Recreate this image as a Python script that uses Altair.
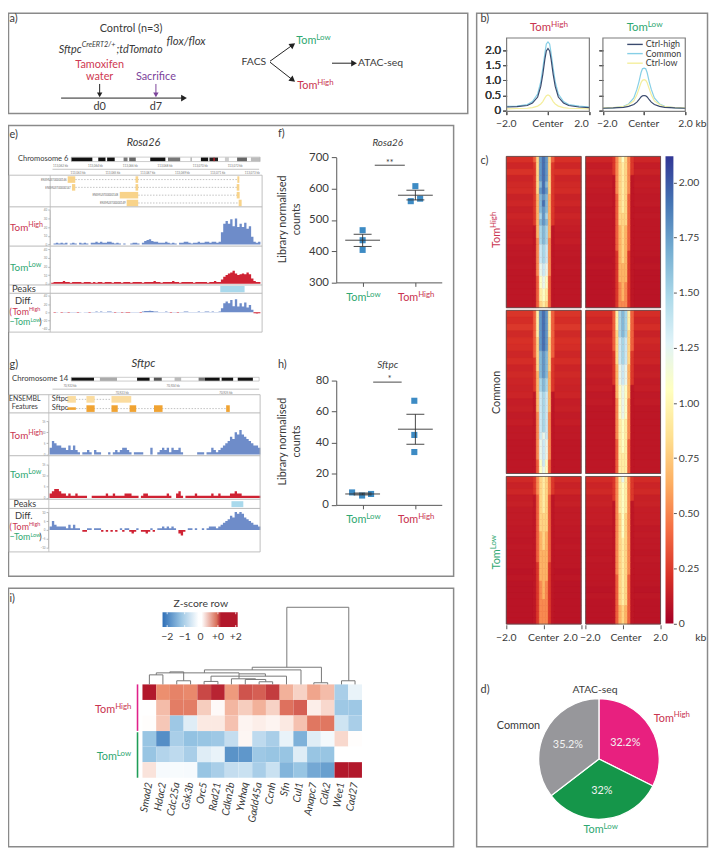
import altair as alt
import pandas as pd
import math
from collections import defaultdict

alt.data_transformers.disable_max_rows()
W, H, OX, OY = 709, 845, 8, 8
FONT = "Lato"
INK = "#3a3a3a"
RED = "#c9344f"
GREEN = "#2fa872"
FRAME = "#8a8a8a"
BLUE_TRACK = "#6e8cc9"
RED_TRACK = "#cf2233"

# ---- data ---------------------------------------------------------------
prof_x = [-2, -1.5, -1, -.75, -.5, -.35, -.25, -.15, -.08, 0, .08, .15, .25, .35, .5, .75, 1, 1.5, 2]
b_left = {
    "Common": [.14, .15, .2, .3, .55, .95, 1.4, 1.9, 2.2, 2.27, 2.2, 1.9, 1.4, .95, .55, .3, .2, .15, .12],
    "Ctrl-low": [.06, .07, .08, .1, .15, .22, .3, .42, .49, .52, .49, .42, .3, .22, .15, .1, .08, .07, .06],
    "Ctrl-high": [.12, .13, .17, .25, .45, .8, 1.2, 1.7, 1.97, 2.05, 1.97, 1.7, 1.2, .8, .45, .25, .17, .12, .1],
}
b_right = {
    "Common": [.08, .09, .14, .22, .42, .7, .95, 1.25, 1.38, 1.4, 1.38, 1.25, .95, .7, .42, .22, .14, .09, .08],
    "Ctrl-low": [.09, .1, .13, .2, .32, .52, .72, .92, 1.0, 1.02, 1.0, .92, .72, .52, .32, .2, .13, .1, .09],
    "Ctrl-high": [.08, .09, .11, .14, .2, .28, .36, .45, .49, .5, .49, .45, .36, .28, .2, .14, .11, .09, .08],
}
b_colors = {"Ctrl-high": "#3a4a6e", "Common": "#86cfe6", "Ctrl-low": "#f4ee9c"}

# Central seven columns of each heatmap row (hex levels) and the flank level of that row
heat_hh = ["36ded63", "26ded62", "26ded62", "26ded62", "26cec62", "26ded62", "25cdc52", "25cec52", "25cdc52", "25bdb52",
           "25cdc52", "15bcb51", "15bcb51", "14bcb41", "14aba41", "14aba41", "14aba41", "149a941", "149a941", "1389831",
           "1389831", "1378731", "1378731", "1367631"]
heat_hl = ["2468642", "2467642", "2467642", "1467641", "1467641", "1467641", "1367631", "1367631", "1367631", "1366631",
           "1366631", "1356531", "1356531", "1356531", "1356531", "1256521", "1256521", "1255521", "1255521", "1255521",
           "1245421", "1245421", "1245421", "1244421"]
heat_ch = ["37ded73", "37ded73", "37ded73", "37ded73", "36ded63", "36ded63", "36cdc63", "26cdc62", "26cdc62", "25cdc52",
           "25bcb52", "25bcb52", "15aba51", "15aba51", "15aba51", "14aba41", "14aba41", "14aba41", "14a9a41", "149a941",
           "149a941", "149a941", "138a831", "1389831"]
heat_cl = ["37bcb73", "37bcb73", "37bcb73", "36bcb63", "36aba63", "36aba63", "26aba62", "26aba62", "259a952", "259a952",
           "259a952", "1589851", "1589851", "1489841", "1489841", "1489841", "1478741", "1478741", "1478741", "1378731",
           "1378731", "1377731", "1377731", "1377731"]
heat_lh = ["2467642", "2467642", "2467642", "1367631", "1367631", "1367631", "1366631", "1366631", "1366631", "1356531",
           "1356531", "1356531", "1355531", "1355531", "1255521", "1255521", "1255521", "1245421", "1245421", "1245421",
           "1244421", "1244421", "1244421", "1244421"]
heat_ll = ["2479742", "2478742", "2478742", "2478742", "1478741", "1478741", "1468641", "1468641", "1468641", "1468641",
           "1467641", "1467641", "1467641", "1467641", "1467641", "1467641", "1367631", "1367631", "1367631", "1367631",
           "1367631", "1356531", "1356531", "1356531"]
flank_h1 = [.21, .17, .22, .16, .18, .19, .15, .17, .14, .16, .14, .13, .12, .13, .11, .11, .1, .11, .1, .1, .1, .1, .1, .1]
flank_h2 = [.17, .13, .15, .12, .13, .12, .11, .12, .1, .11, .1, .1, .1, .1, .1, .1, .09, .1, .09, .09, .09, .09, .09, .09]
flank_c1 = [.23, .2, .24, .18, .21, .2, .17, .2, .16, .18, .16, .15, .16, .13, .14, .12, .13, .11, .11, .1, .1, .1, .1, .1]
flank_c2 = [.2, .17, .2, .15, .18, .16, .15, .16, .13, .14, .12, .13, .11, .12, .1, .1, .1, .1, .1, .1, .1, .1, .1, .1]
flank_l1 = [.18, .15, .17, .13, .14, .12, .12, .12, .11, .11, .1, .11, .1, .1, .1, .09, .1, .09, .09, .09, .09, .09, .09, .09]
flank_l2 = [.19, .16, .18, .14, .15, .13, .13, .13, .11, .12, .11, .11, .1, .11, .1, .1, .1, .1, .09, .1, .09, .09, .09, .09]
rdylbu = ["#a50026", "#d73027", "#f46d43", "#fdae61", "#fee090", "#ffffbf", "#e0f3f8", "#abd9e9", "#74add1", "#4575b4", "#313695"]

pie_names = ["TomHigh", "TomLow", "Common"]
pie_vals = [32.2, 32, 35.2]
pie_cols = ["#e8207f", "#15964a", "#97979b"]

e_high = [0, 1, 2, 1, 2, 1, 2, 0, 1, 2, 1, 0, 2, 1, 2, 1, 0, 2, 2, 3, 2, 3, 2, 2, 3, 3, 2, 1, 2, 1,
          0, 1, 0, 0, 1, 2, 2, 1, 0, 2, 4, 5, 6, 4, 3, 3, 2, 2, 2, 3, 2, 1, 2, 1, 0, 2, 2, 3, 3, 2,
          1, 2, 2, 3, 2, 2, 3, 3, 2, 3, 3, 2, 3, 14, 24, 27, 24, 29, 21, 30, 20, 24, 20, 25, 18, 21, 9, 3, 2, 3]
e_low = [1, 2, 2, 2, 2, 3, 2, 2, 1, 2, 2, 2, 2, 1, 2, 2, 2, 1, 2, 1, 2, 2, 1, 2, 2, 2, 1, 2, 2, 2,
         1, 2, 2, 2, 1, 2, 2, 2, 2, 1, 2, 2, 2, 2, 3, 2, 2, 1, 2, 2, 2, 2, 3, 2, 2, 1, 2, 2, 2, 2,
         2, 1, 2, 2, 2, 2, 2, 1, 2, 2, 3, 2, 2, 5, 8, 10, 12, 13, 15, 12, 10, 11, 12, 11, 13, 11, 6, 3, 2, 2]
e_diff = [0, -1, 1, 0, -1, 1, 1, -1, 1, 1, 1, -1, 1, 0, 1, 1, -1, 1, 1, 2, 1, 2, 1, 1, 2, 2, 1, -1, 1, 1,
          -1, 1, -1, -1, 1, 1, 1, 1, -1, 2, 3, 3, 4, 3, 2, 2, 1, 1, 1, 2, 1, -1, 1, 1, -1, 1, 1, 2, 2, 1,
          1, 1, 1, 2, 1, 1, 2, 2, 1, 2, 1, 1, 2, 10, 22, 26, 22, 30, 15, 32, 14, 22, 14, 24, 12, 18, 6, -2, -3, -2]
g_high = [3, 6, 5, 4, 4, 3, 3, 2, 4, 2, 4, 2, 1, 0, 1, 1, 2, 1, 0, 2, 1, 1, 0, 0, 0, 1, 0, 1, 2, 1,
          2, 3, 3, 2, 1, 0, 1, 1, 1, 1, 0, 0, 0, 3, 0, 0, 1, 2, 3, 2, 3, 1, 3, 2, 2, 3, 1, 0, 0, 0,
          0, 0, 0, 1, 1, 1, 0, 1, 1, 3, 2, 1, 2, 3, 4, 5, 6, 8, 7, 10, 9, 11, 9, 8, 7, 6, 5, 4, 4, 3]
g_low = [2, 3, 4, 4, 3, 2, 2, 1, 2, 1, 1, 2, 1, 1, 1, 1, 0, 0, 1, 1, 1, 1, 1, 1, 2, 1, 1, 2, 1, 1,
         1, 1, 2, 2, 2, 1, 1, 1, 0, 1, 2, 2, 1, 1, 1, 1, 1, 1, 1, 1, 2, 1, 0, 0, 2, 3, 1, 0, 1, 1,
         1, 1, 2, 1, 1, 1, 1, 1, 1, 2, 1, 1, 2, 1, 1, 1, 1, 2, 2, 3, 2, 2, 1, 1, 1, 1, 1, 1, 1, 1]
g_diff = [2, 5, 3, 2, 2, 2, 2, 1, 3, 1, 3, 1, 1, 0, -1, -1, 1, 1, 0, 1, 1, 1, -1, 0, -1, 0, -1, 0, -1, 0,
          1, -1, 1, 1, -1, -2, -1, 1, 0, -1, -1, -2, -1, 1, -1, 0, 1, 1, 2, 1, 2, 1, 2, 1, 0, -2, -3, -1, 0, 1,
          1, 0, 1, 0, 0, 1, 0, 1, 2, 2, 2, 1, 2, 3, 4, 5, 6, 8, 7, 10, 9, 10, 9, 7, 6, 5, 4, 3, 3, 2]

e_band = [(216, 280, "#111111"), (298, 320, "#111111"), (325, 348, "#111111"), (375, 387, "#777777"), (392, 412, "#666666"),
          (456, 502, "#111111"), (510, 547, "#777777"), (578, 583, "#bbbbbb"), (610, 632, "#111111"), (636, 662, "#222222"),
          (648, 652, "#c8202c"), (683, 695, "#cccccc"), (720, 750, "#666666"), (762, 790, "#bbbbbb")]
g_band = [(216, 285, "#111111"), (303, 355, "#aaaaaa"), (416, 454, "#111111"), (467, 491, "#555555"), (530, 550, "#bbbbbb"),
          (603, 622, "#777777"), (622, 667, "#111111"), (673, 708, "#111111"), (722, 768, "#111111")]
e_exons = [(205, 228, 0), (411, 419, 0), (218, 228, 1), (411, 419, 1), (718, 726, 1), (363, 419, 2), (718, 727, 2),
           (384, 419, 3), (724, 733, 3), (720, 726, 0)]
e_introns = [(228, 725, 0), (228, 720, 1), (419, 720, 2), (419, 726, 3)]
g_exons1 = [(204, 230), (262, 287), (338, 398)]
g_exons2 = [(262, 287), (338, 357), (393, 413), (467, 493), (686, 697)]

f_x = [1, 1, 1, 1.9125, 2, 2.09]
f_y = [467, 435, 404, 560, 608, 568]
h_x = [.8, .99, 1.16, 1.98, 1.98, 1.98]
h_y = [8, 6, 7, 67, 45, 34]
f_means = [(1, 435, 415, 454), (2, 579, 564, 595)]
h_means = [(1, 7, 6.4, 7.6), (2, 48.7, 39, 58.3)]

genes = ["Smad2", "Hdac2", "Cdc25a", "Gsk3b", "Orc5", "Rad21", "Cdkn2b", "Ywhaq", "Gadd45a", "Ccnh", "Sfn", "Cul1", "Anapc7", "Cdk2", "Wee1", "Cad27"]
z_rows = [
    [2.0, 1.0, 1.1, 1.05, 1.6, 1.9, .9, 1.5, 1.4, 1.7, .7, .4, .8, .6, -.8, -.2],
    [0, .6, 1.15, 1.15, .45, .05, .65, .45, .7, .4, 1.25, 1.4, .15, .35, -.9, -.9],
    [.02, .5, -.9, -.3, .2, .2, .55, .1, .15, .1, .2, .55, 1.2, 1.2, -.45, -.8],
    [-.95, -1.6, -.8, -1.0, -.95, -.9, -.55, .08, -.6, -.8, -.2, -1.2, -.3, -.1, .35, .02],
    [-.95, -.7, -.6, -.8, -.3, -.2, -1.55, -1.5, -.9, -.95, -.95, -.3, -.95, -.95, 0, 0],
    [.25, -.08, -.07, -.08, -.95, -.8, -.55, -.5, -.8, -.5, -1.15, -.95, -1.3, -1.4, 2, 2],
]
z_domain = [-2, -1, 0, 1, 2]
z_range = ["#2b6cb3", "#93c2e2", "#ffffff", "#ec8f6f", "#b2182b"]
dendro = [(453, 494, 29, 0, 0), (536, 578, 11, 0, 0), (515, 557, 38, 35, 11), (474, 725, 35, 29, 32), (619, 661, 9, 0, 0),
          (786, 827, 8, 0, 0), (744, 806, 15, 0, 8), (702, 775, 17, 0, 15), (640, 869, 25, 9, 0), (725, 805, 32, 17, 25),
          (620, 913, 44, 35, 0), (952, 994, 5, 0, 0), (765, 975, 52, 44, 5), (1036, 1077, 11, 0, 0), (870, 1058, 234, 52, 11)]


# ---- helpers --------------------------------------------------------------
def sx(d, r):
    return alt.Scale(domain=list(d), range=[r[0] - OX, r[1] - OX], nice=False, zero=False)


def sy(d, r):
    return alt.Scale(domain=list(d), range=[r[0] - OY, r[1] - OY], nice=False, zero=False)


def px():
    return sx([8, 717], [8, 717])


def py():
    return sy([8, 853], [8, 853])


def yaxis(xp, orient="left", **kw):
    off = -(xp - OX) if orient == "left" else -(W - (xp - OX))
    base = dict(grid=False, title=None, labelFont=FONT, labelColor=INK, domainColor="#555", tickColor="#555")
    base.update(kw)
    return alt.Axis(orient=orient, offset=off, **base)


def xaxis(yp, **kw):
    base = dict(grid=False, title=None, labelFont=FONT, labelColor=INK, domainColor="#555", tickColor="#555")
    base.update(kw)
    return alt.Axis(orient="bottom", offset=-(H - (yp - OY)), **base)


layers = []
texts = []


def T(x, y, s, size=11, color=INK, align="left", italic=False, angle=0):
    texts.append(dict(x=x, y=y, t=s, size=size, color=color, align=align, italic=italic, angle=angle))


TW = 1.85


def tom(x, y, level, size=11, angle=0, sup=.72):
    color = RED if level == "High" else GREEN
    w = size * TW
    T(x, y, "Tom", size, color, angle=angle)
    if angle == 0:
        T(x + w, y - size * .3, level, size * sup, color)
    else:
        T(x - size * .3, y - w, level, size * sup, color, angle=angle)


rects, frames, rules, heads = [], [], [], []


def R(x0, y0, x1, y1, c):
    rects.append(dict(x=x0, x2=x1, y=y0, y2=y1, c=c))


def F(x0, y0, x1, y1, c=FRAME, w=1.5):
    frames.append(dict(x=x0, x2=x1, y=y0, y2=y1, c=c, w=w))


def L(x0, y0, x1, y1, c="#333", w=1.0):
    rules.append(dict(x=x0, x2=x1, y=y0, y2=y1, c=c, w=w))


def A(x0, y0, x1, y1, c="#222", w=1.0, head=45):
    L(x0, y0, x1, y1, c, w)
    a = math.degrees(math.atan2(x1 - x0, -(y1 - y0)))
    heads.append(dict(x=x1, y=y1, c=c, a=a, s=head))


# ---- panel frames ---------------------------------------------------------
F(8.5, 8.5, 473, 110)
F(482, 8.5, 715.5, 851.5)
F(8.5, 122, 458.7, 578)
F(8.5, 590, 458.7, 851.5)

# ---- panel a --------------------------------------------------------------
T(9.5, 14, "a)", 11)
T(132.5, 24, "Control (n=3)", 11, align="center")
T(59.3, 46, "Sftpc", 11, italic=True)
T(82.5, 40.5, "CreERT2/+", 7.4, italic=True)
T(117.7, 46, ";tdTomato", 11, italic=True)
T(168.3, 38, "flox/flox", 11.5, italic=True)
T(100.7, 61, "Tamoxifen", 11, "#cf3a52", "center")
T(100.7, 73, "water", 11, "#cf3a52", "center")
T(157.6, 73, "Sacrifice", 11, "#7c449b", "center")
A(61.7, 94.3, 186, 94.3)
A(100.7, 80, 100.7, 91, head=30)
A(157.6, 80, 157.6, 91, "#7c449b", head=30)
T(100.7, 103, "d0", 11, align="center")
T(157.6, 103, "d7", 11, align="center")
T(256.7, 58, "FACS", 10.5, align="center")
A(273, 57, 296, 40.5)
A(273, 58, 296, 76)
tom(299.5, 36.5, "Low", 11)
tom(300.5, 82, "High", 11)
A(335.7, 59, 358, 59)
T(362, 59, "ATAC-seq", 10.5)

# ---- panel b --------------------------------------------------------------
T(486, 14, "b)", 11)
tom(536, 23.5, "High", 11.5)
tom(633.7, 23.5, "Low", 11.5)
yb = sy([0, 2], [107, 45.7])
for xr, series, labeled in [((512.3, 596), b_left, True), ((609.7, 693), b_right, False)]:
    xs = sx([-2, 2], xr)
    for name, vals in series.items():
        d = pd.DataFrame({"x": prof_x, "y": vals})
        layers.append(alt.Chart(d).mark_line(color=b_colors[name], strokeWidth=1.2).encode(
            x=alt.X("x:Q", scale=xs, axis=xaxis(108, values=[-2, 0, 2], labels=False, domain=False, tickSize=3)),
            y=alt.Y("y:Q", scale=yb, axis=yaxis(xr[0], values=[0, .5, 1, 1.5, 2], domain=False, tickSize=4,
                                                labels=labeled, labelFontSize=11.5,
                                                labelExpr="datum.value == 0 ? '0' : format(datum.value, '.1f')"))))
    F(xr[0], 33.5, xr[1], 107.7, "#7d7d7d", 1.2)
T(512, 120.5, "\u22122.0", 10.5, align="center")
T(554, 120.5, "Center", 10.5, align="center")
T(588, 120.5, "2.0", 10.5, align="center")
T(614, 120.5, "\u22122.0", 10.5, align="center")
T(651, 120.5, "Center", 10.5, align="center")
T(686, 120.5, "2.0 kb", 10.5)
for yy, name in [(40, "Ctrl-high"), (49.3, "Common"), (59, "Ctrl-low")]:
    L(634.3, yy, 650, yy, b_colors[name], 1.4)
    T(653, yy, name, 9)

# ---- panel c --------------------------------------------------------------
T(486, 158, "c)", 11)
heat_vals = [i * .212 for i in range(11)]
col_x = [(512, 587.7), (592.3, 668)]
row_y = [(153.3, 306.3), (309, 474), (477, 626.3)]
grids = [[(heat_hh, flank_h1), (heat_hl, flank_h2)], [(heat_ch, flank_c1), (heat_cl, flank_c2)], [(heat_lh, flank_l1), (heat_ll, flank_l2)]]
for ri, ry in enumerate(row_y):
    for ci, cx in enumerate(col_x):
        rows, flank = grids[ri][ci]
        ys = sy([0, len(rows)], ry)
        xs = sx([-2, 2], cx)
        F(cx[0], ry[0], cx[1], ry[1], "#555", .8)
        R(cx[0], ry[0], cx[1], ry[1], "#c42a2a")
        recs = []
        for r, (row, fl) in enumerate(zip(rows, flank)):
            recs.append(dict(x=-2, x2=-2 + 9 * .16, y=r, y2=r + 1, v=fl))
            recs.append(dict(x=-2 + 16 * .16, x2=2, y=r, y2=r + 1, v=fl))
            for c, ch in enumerate(row):
                recs.append(dict(x=-2 + (c + 9) * .16, x2=-2 + (c + 10) * .16, y=r, y2=r + 1, v=int(ch, 16) * .14 - .04))
        axis = None
        if ri == 2:
            axis = xaxis(627, values=[-2, 0, 2], labels=False, domain=False, tickSize=4)
        heat_scale = alt.Scale(domain=heat_vals, range=rdylbu, interpolate="rgb")
        layers.append(alt.Chart(pd.DataFrame(recs)).mark_rect(strokeWidth=.5).encode(
            x=alt.X("x:Q", scale=xs, axis=axis), x2="x2:Q",
            y=alt.Y("y:Q", scale=ys, axis=None), y2="y2:Q",
            color=alt.Color("v:Q", scale=heat_scale, legend=None),
            stroke=alt.Stroke("v:Q", scale=heat_scale, legend=None)))
bar_stops = [alt.GradientStop(offset=i / 10, color=c) for i, c in enumerate(rdylbu)]
bar_ticks = [0, .25, .5, .75, 1, 1.25, 1.5, 1.75, 2]
layers.append(alt.Chart(pd.DataFrame({"x": [0], "x2": [1], "y": [0], "y2": [2.12]})).mark_rect(
    color=alt.Gradient(gradient="linear", stops=bar_stops, x1=0, x2=0, y1=1, y2=0)).encode(
    x=alt.X("x:Q", scale=sx([0, 1], (673, 681)), axis=None), x2="x2:Q",
    y=alt.Y("y:Q", scale=sy([0, 2.12], (625.7, 153)),
            axis=yaxis(681, "right", values=bar_ticks, domain=False, tickSize=3, labelFontSize=10.5,
                       labelExpr="datum.value == 0 ? '0' : format(datum.value, '.2f')")), y2="y2:Q"))
for lab, xc in [("\u22122.0", 512), ("Center", 549.7), ("2.0", 577), ("\u22122.0", 597), ("Center", 633), ("2.0", 668)]:
    T(xc, 640, lab, 10.5, align="center")
T(703, 640, "kb", 10.5)
tom(503, 246, "High", 11, angle=270)
T(503, 392, "Common", 11, align="center", angle=270)
tom(503, 571, "Low", 11, angle=270)

# ---- panel d --------------------------------------------------------------
T(486, 693, "d)", 11)
T(601.7, 692.5, "ATAC-seq", 10.5, align="center")
T(524.3, 729.5, "Common", 11, align="center")
tom(661, 722, "High", 11)
tom(590, 835, "Low", 11)
layers.append(alt.Chart(pd.DataFrame({"k": pie_names, "v": pie_vals, "i": [0, 1, 2]})).mark_arc(
    outerRadius=61, stroke="white", strokeWidth=1.3).encode(
    theta=alt.Theta("v:Q", stack=True), order=alt.Order("i:Q"),
    color=alt.Color("k:N", scale=alt.Scale(domain=pie_names, range=pie_cols), legend=None),
    x=alt.value(605.7 - OX), y=alt.value(762.7 - OY)))
pie_text_pos = [(632.3, 747), (608.7, 795), (574.3, 749)]
pie_labels = ["32.2%", "32%", "35.2%"]


# ---- tracks ---------------------------------------------------------------
def track(vals, xr, d, baseline_top, color=BLUE_TRACK, ticks=None, sign=1):
    n = len(vals)
    rec = pd.DataFrame({"x": list(range(n + 1)), "y": [max(sign * v, 0) * sign for v in vals] + [0]})
    return alt.Chart(rec).mark_area(interpolate="step-after", color=color).encode(
        x=alt.X("x:Q", scale=sx([0, n], xr), axis=None),
        y=alt.Y("y:Q", stack=None, scale=sy(d, baseline_top),
                axis=None if ticks is None else yaxis(xr[0] - 1.5, values=ticks, tickSize=2, labelFontSize=3,
                                                      labelPadding=1, domainColor="#999", tickColor="#888",
                                                      labelColor="#888", tickWidth=.6, domainWidth=.6)))


def bands(items, dom, xr, yr):
    d = pd.DataFrame(items, columns=["a", "b", "c"])
    d["y"], d["y2"] = 0, 1
    return alt.Chart(d).mark_rect().encode(
        x=alt.X("a:Q", scale=sx(dom, xr), axis=None), x2="b:Q",
        y=alt.Y("y:Q", scale=sy([0, 1], yr), axis=None), y2="y2:Q",
        color=alt.Color("c:N", scale=None))


# panel e
T(9.5, 132, "e)", 11)
T(145, 140, "Rosa26", 11, align="center", italic=True)
T(69, 155.7, "Chromosome 6", 7.6, align="right")
F(72, 154, 263, 158.5, "#aaaaaa", .6)
layers.append(bands(e_band, (216, 790), (72, 263), (154.3, 158.2)))
L(53, 166.3, 262, 166.3, "#999", .6)
for xz, lab in [(183, "113,062 kb"), (289, "113,064 kb"), (395, "113,066 kb"), (500, "113,068 kb"), (607, "113,070 kb"), (713, "113,072 kb")]:
    T(xz / 3, 162.7, lab, 3, "#777", "center")
for xz, lab in [(236, "113,063 kb"), (342, "113,065 kb"), (448, "113,067 kb"), (553, "113,069 kb"), (660, "113,071 kb"), (765, "113,073 kb")]:
    T(xz / 3, 170, lab, 3, "#777", "center")
F(9, 172.3, 265, 331, "#b8b8b8", .9)
L(50.7, 172.3, 50.7, 331, "#b8b8b8", .8)
for yy in [204.3, 244, 283.3, 291.7]:
    L(9, yy, 265, yy, "#b8b8b8", 1)
e_tx = sx([155, 790], (51.7, 263.3))
e_ty = sy([-.5, 3.5], (172.75, 204.35))
d_int = pd.DataFrame(e_introns, columns=["a", "b", "r"])
layers.append(alt.Chart(d_int).mark_rule(color="#999", strokeWidth=.6, strokeDash=[1.5, 1.5]).encode(
    x=alt.X("a:Q", scale=e_tx, axis=None), x2="b:Q", y=alt.Y("r:Q", scale=e_ty, axis=None)))
d_ex = pd.DataFrame(e_exons, columns=["a", "b", "r"])
d_ex["r0"], d_ex["r1"] = d_ex.r - .42, d_ex.r + .42
layers.append(alt.Chart(d_ex).mark_rect(color="#f8d38a").encode(
    x=alt.X("a:Q", scale=e_tx, axis=None), x2="b:Q",
    y=alt.Y("r0:Q", scale=e_ty, axis=None), y2="r1:Q"))
for xz, yy, lab in [(202, 176.7, "ENSMUST00000146"), (215, 185, "ENSMUST00000147"), (358, 192.7, "ENSMUST00000148"), (381, 200.3, "ENSMUST00000149")]:
    T(xz / 3, yy, lab, 2.8, "#666", "right")
e_xr = (51.7, 263.3)
layers.append(track(e_high, e_xr, [0, 40], (242.3, 207.3), BLUE_TRACK, [0, 10, 20, 30, 40]))
layers.append(track(e_low, e_xr, [0, 40], (282, 247.3), RED_TRACK, [0, 10, 20, 30, 40]))
layers.append(track(e_diff, e_xr, [-40, 40], (327.7, 294.3), BLUE_TRACK, [-40, -20, 0, 20, 40]))
layers.append(track(e_diff, e_xr, [-40, 40], (327.7, 294.3), RED_TRACK, None, sign=-1))
R(222.7, 284.3, 247.3, 290.7, "#a9d9ec")
tom(10, 226, "High", 10)
tom(10, 266, "Low", 10)
T(24, 287.5, "Peaks", 9.5, align="center")
T(24, 300, "Diff.", 9.5, align="center")
T(9.5, 310.5, "(", 9, RED)
tom(12.5, 310.5, "High", 9, sup=.62)
T(9.5, 321, "\u2212", 9, GREEN)
tom(14, 321, "Low", 9, sup=.62)
T(39.5, 321, ")", 9)

# panel g
T(9.5, 364, "g)", 11)
T(145, 363.5, "Sftpc", 11.5, align="center", italic=True)
T(69, 378.7, "Chromosome 14", 7.8, align="right")
F(72, 376.7, 262, 380.5, "#aaaaaa", .6)
layers.append(bands(g_band, (216, 787), (72, 262), (376.9, 380.3)))
L(53, 388.7, 262, 388.7, "#999", .6)
for xz, yz, lab in [(212, 136, "70,922 kb"), (525, 136, "70,924 kb"), (370, 157, "70,923 kb"), (685, 157, "70,925 kb")]:
    T(xz / 3, 340 + yz / 3, lab, 3, "#777", "center")
F(9, 394.3, 263, 553.3, "#b8b8b8", .9)
L(49.3, 394.3, 49.3, 553.3, "#b8b8b8", .8)
for yy in [412.7, 456, 500, 509.3]:
    L(9, yy, 263, yy, "#b8b8b8", 1)
g_tx = sx([150, 790], (50, 263.3))
g_ty = sy([-.5, 1.5], (394.35, 413))
layers.append(alt.Chart(pd.DataFrame({"a": [230, 230], "b": [338, 690], "r": [0, 1]})).mark_rule(
    color="#999", strokeWidth=.6, strokeDash=[1.5, 1.5]).encode(
    x=alt.X("a:Q", scale=g_tx, axis=None), x2="b:Q", y=alt.Y("r:Q", scale=g_ty, axis=None)))
d1 = pd.DataFrame(g_exons1, columns=["a", "b"])
d1["r0"], d1["r1"] = -.36, .36
d2 = pd.DataFrame(g_exons2, columns=["a", "b"])
d2["r0"], d2["r1"] = .64, 1.36
d3 = pd.DataFrame({"a": [204], "b": [230], "r0": [.86], "r1": [1.14]})
for dd, col in [(d1, "#fbdc9f"), (d2, "#f0a332"), (d3, "#f0a332")]:
    layers.append(alt.Chart(dd).mark_rect(color=col).encode(
        x=alt.X("a:Q", scale=g_tx, axis=None), x2="b:Q",
        y=alt.Y("r0:Q", scale=g_ty, axis=None), y2="r1:Q"))
g_xr = (50, 263.3)
layers.append(track(g_high, g_xr, [0, 15], (454.7, 421), BLUE_TRACK, [0, 5, 10, 15]))
layers.append(track(g_low, g_xr, [0, 15], (498.7, 464.7), RED_TRACK, [0, 5, 10, 15]))
layers.append(track(g_diff, g_xr, [-10, 10], (549.3, 513), BLUE_TRACK, [-10, -5, 0, 5, 10]))
layers.append(track(g_diff, g_xr, [-10, 10], (549.3, 513), RED_TRACK, None, sign=-1))
R(234, 502, 246, 508, "#a9d9ec")
T(25, 399, "ENSEMBL", 7, align="center")
T(25, 406.5, "Features", 7, align="center")
T(52.3, 399, "Sftpc", 7.5)
T(52.3, 408, "Sftpc", 7.5)
tom(10, 436, "High", 10)
tom(10, 475.7, "Low", 10)
T(25, 504.7, "Peaks", 9, align="center")
T(24, 517, "Diff.", 9.5, align="center")
T(9.5, 528, "(", 9, RED)
tom(12.5, 528, "High", 9, sup=.62)
T(9.5, 538.5, "\u2212", 9, GREEN)
tom(14, 538.5, "Low", 9, sup=.62)
T(39.5, 538.5, ")", 9)


# ---- panels f, h ----------------------------------------------------------
def dots(xv, yv, means, yd, ytop, ybot, yticks, sig, stars, title_y, title, cat_y, h_sig):
    xs = sx([.5, 2.5], (340, 446.7))
    ys = sy(yd, (ybot, ytop))
    d = pd.DataFrame({"x": xv, "y": yv})
    layers.append(alt.Chart(d).mark_square(size=38, color="#3d8bc4", opacity=1).encode(
        x=alt.X("x:Q", scale=xs, axis=xaxis(ybot, values=[1, 2], labels=False, tickSize=4)),
        y=alt.Y("y:Q", scale=ys, axis=yaxis(340, values=yticks, tickSize=5, labelFontSize=11.5, labelPadding=3))))
    seg = []
    for x0, m, lo, hi in means:
        seg += [dict(a=x0 - .33, b=x0 + .33, y=m), dict(a=x0 - .17, b=x0 + .17, y=lo), dict(a=x0 - .17, b=x0 + .17, y=hi)]
    seg.append(dict(a=sig[0], b=sig[1], y=sig[2]))
    layers.append(alt.Chart(pd.DataFrame(seg)).mark_rule(color="#333", strokeWidth=.9).encode(
        x=alt.X("a:Q", scale=xs, axis=None), x2="b:Q", y=alt.Y("y:Q", scale=ys, axis=None)))
    vs = pd.DataFrame([dict(x=m[0], lo=m[2], hi=m[3]) for m in means])
    layers.append(alt.Chart(vs).mark_rule(color="#333", strokeWidth=.9).encode(
        x=alt.X("x:Q", scale=xs, axis=None), y=alt.Y("lo:Q", scale=ys, axis=None), y2="hi:Q"))
    T(392, title_y, title, 10, align="center", italic=True)
    T(394, h_sig, stars, 9, align="center")
    tom(350, cat_y, "Low", 11)
    tom(402.5, cat_y, "High", 11)


T(281, 131, "f)", 11)
dots(f_x, f_y, f_means, [300, 700], 154.3, 280.7, [300, 400, 500, 600, 700], (1.23, 1.8, 675), "**", 140, "Rosa26", 296.7, 160.3)
T(281, 364, "h)", 11)
dots(h_x, h_y, h_means, [0, 80], 380, 505.7, [0, 20, 40, 60, 80], (1.2, 1.74, 79), "*", 364, "Sftpc", 521, 378)
T(286, 217, "Library normalised", 11, align="center", angle=270)
T(300, 217, "counts", 11, align="center", angle=270)
T(286, 441.7, "Library normalised", 11, align="center", angle=270)
T(300, 441.7, "counts", 11, align="center", angle=270)

# ---- panel i --------------------------------------------------------------
T(9.5, 600.7, "i)", 11)
T(203, 606, "Z-score row", 10.5, align="center")
rec = []
for ri, row in enumerate(z_rows):
    for gi, v in enumerate(row):
        rec.append(dict(g=genes[gi], r=ri, v=v))
layers.append(alt.Chart(pd.DataFrame(rec)).mark_rect().encode(
    x=alt.X("g:N", sort=genes, scale=alt.Scale(domain=genes, range=[144 - OX, 366 - OX], paddingInner=0, paddingOuter=0),
            axis=xaxis(782, labelAngle=-80, labelAlign="right", labelBaseline="middle", labelFontStyle="italic", labelFontSize=10.5,
                       domain=False, ticks=False, labelPadding=4, labelOverlap=False)),
    y=alt.Y("r:O", scale=alt.Scale(domain=[0, 1, 2, 3, 4, 5], range=[687.3 - OY, 781.7 - OY], paddingInner=0, paddingOuter=0), axis=None),
    color=alt.Color("v:Q", scale=alt.Scale(domain=z_domain, range=z_range, interpolate="rgb"), legend=None)))
z_stops = [(0, "#2f6fb7"), (.25, "#9cc6e4"), (.48, "#ffffff"), (.52, "#ffffff"), (.72, "#d9705a"), (.78, "#b2182b"), (1, "#b2182b")]
layers.append(alt.Chart(pd.DataFrame({"x": [-2], "x2": [2], "y": [0], "y2": [1]})).mark_rect(
    color=alt.Gradient(gradient="linear", stops=[alt.GradientStop(offset=a, color=b) for a, b in z_stops], x1=0, x2=1, y1=0, y2=0)).encode(
    x=alt.X("x:Q", scale=sx([-2, 2], (164.3, 240.3)), axis=None), x2="x2:Q",
    y=alt.Y("y:Q", scale=sy([0, 1], (629.3, 614.3)), axis=None), y2="y2:Q"))
for xx in [169, 186.7, 202.7, 220.3, 238.3]:
    L(xx, 627.3, xx, 629.3, "white", .8)
    L(xx, 614.3, xx, 616.3, "white", .8)
for lab, xx in [("\u22122", 169), ("\u22121", 186.7), ("0", 202.7), ("+0", 220.3), ("+2", 238.3)]:
    T(xx, 639, lab, 10.5, align="center")
L(139, 687.3, 139, 734.3, "#e0218a", 1.6)
L(139, 735.7, 139, 781.7, "#1f9d57", 1.6)
tom(96, 713, "High", 11)
tom(97.7, 761, "Low", 11)
dx_s = sx([432, 1098], (144, 366))
dy_s = sy([0, 234], (687.3, 609.3))
hor = pd.DataFrame([dict(a=l[0], b=l[1], h=l[2]) for l in dendro])
ver = pd.DataFrame([dict(a=l[0], h=l[2], h2=l[3]) for l in dendro] + [dict(a=l[1], h=l[2], h2=l[4]) for l in dendro])
layers.append(alt.Chart(hor).mark_rule(color="#777", strokeWidth=1).encode(
    x=alt.X("a:Q", scale=dx_s, axis=None), x2="b:Q", y=alt.Y("h:Q", scale=dy_s, axis=None)))
layers.append(alt.Chart(ver).mark_rule(color="#777", strokeWidth=1).encode(
    x=alt.X("a:Q", scale=dx_s, axis=None), y=alt.Y("h:Q", scale=dy_s, axis=None), y2="h2:Q"))

# ---- page-level marks -----------------------------------------------------
base_layers = []
if rects:
    base_layers.append(alt.Chart(pd.DataFrame(rects)).mark_rect().encode(
        x=alt.X("x:Q", scale=px(), axis=None), x2="x2:Q", y=alt.Y("y:Q", scale=py(), axis=None), y2="y2:Q",
        color=alt.Color("c:N", scale=None)))
top_layers = []
for f in frames:
    top_layers.append(alt.Chart(pd.DataFrame([f])).mark_rect(fillOpacity=0, stroke=f["c"], strokeWidth=f["w"]).encode(
        x=alt.X("x:Q", scale=px(), axis=None), x2="x2:Q", y=alt.Y("y:Q", scale=py(), axis=None), y2="y2:Q"))
top_layers.append(alt.Chart(pd.DataFrame(rules)).mark_rule().encode(
    x=alt.X("x:Q", scale=px(), axis=None), x2="x2:Q", y=alt.Y("y:Q", scale=py(), axis=None), y2="y2:Q",
    color=alt.Color("c:N", scale=None), strokeWidth=alt.StrokeWidth("w:Q", scale=None)))
top_layers.append(alt.Chart(pd.DataFrame(heads)).mark_point(shape="triangle-up", filled=True, opacity=1).encode(
    x=alt.X("x:Q", scale=px(), axis=None), y=alt.Y("y:Q", scale=py(), axis=None),
    color=alt.Color("c:N", scale=None), angle=alt.Angle("a:Q", scale=None), size=alt.Size("s:Q", scale=None)))
for (xx, yy), lab in zip(pie_text_pos, pie_labels):
    T(xx, yy, lab, 11, "#f2f2f2", "center")
groups = defaultdict(list)
for t in texts:
    groups[(t["align"], t["italic"], t["angle"])].append(t)
for (al, it, an), items in groups.items():
    kw = dict(align=al, baseline="middle", font=FONT)
    if it:
        kw["fontStyle"] = "italic"
    if an:
        kw["angle"] = an
    top_layers.append(alt.Chart(pd.DataFrame(items)).mark_text(**kw).encode(
        x=alt.X("x:Q", scale=px(), axis=None), y=alt.Y("y:Q", scale=py(), axis=None),
        text="t:N", color=alt.Color("color:N", scale=None), size=alt.Size("size:Q", scale=None)))

chart = alt.layer(*(base_layers + layers + top_layers)).resolve_scale(
    x="independent", y="independent", color="independent", size="independent", theta="independent", stroke="independent"
).properties(
    width=W, height=H, padding=0, autosize=alt.AutoSizeParams(type="none", contains="content"), background="white"
).configure_view(stroke=None)

chart.save("out.html", embed_options={"renderer": "svg", "actions": False})
